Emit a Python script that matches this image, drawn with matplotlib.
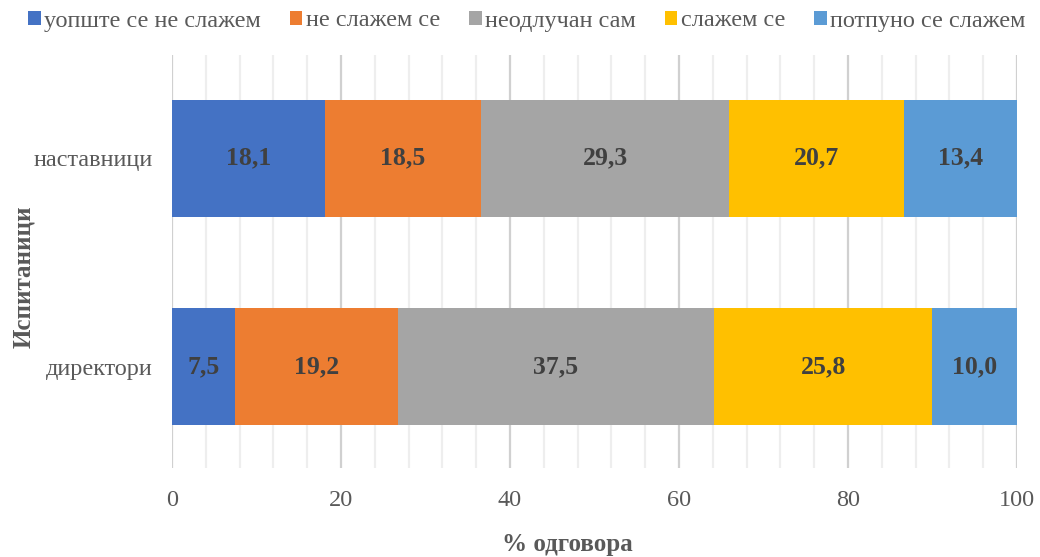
import matplotlib
matplotlib.use("Agg")
import matplotlib.pyplot as plt
from matplotlib.patches import Patch
from matplotlib.ticker import MultipleLocator
import numpy as np

categories = ["директори", "наставници"]
series_names = ["уопште се не слажем", "не слажем се", "неодлучан сам", "слажем се", "потпуно се слажем"]
s1 = [7.5, 18.1]
s2 = [19.2, 18.5]
s3 = [37.5, 29.3]
s4 = [25.8, 20.7]
s5 = [10.0, 13.4]
values = [s1, s2, s3, s4, s5]
colors = ["#4472C4", "#ED7D31", "#A5A5A5", "#FFC000", "#5B9BD5"]
xticks = [0, 20, 40, 60, 80, 100]
xlabel = "% одговора"
ylabel = "Испитаници"

plt.rcParams['font.family'] = ['Liberation Serif', 'DejaVu Serif']
gray = "#595959"

fig = plt.figure(figsize=(10.4, 5.57), dpi=100)
ax = fig.add_axes([172/1040, 1-468/557, (1017-172)/1040, (468-55)/557])

y = np.arange(len(categories))
left = np.zeros(len(categories))
for name, vals, c in zip(series_names, values, colors):
    vals = np.array(vals)
    ax.barh(y, vals, left=left, height=0.56, color=c, label=name, zorder=3)
    for yi, l, v in zip(y, left, vals):
        ax.text(l + v/2, yi, f"{v:.1f}".replace(".", ","), ha="center", va="center",
                fontsize=18.5, fontweight="bold", color="#404040", zorder=4)
    left += vals

ax.set_xlim(0, 100)
ax.set_ylim(-0.485, 1.495)
ax.set_xticks(xticks)
ax.xaxis.set_minor_locator(MultipleLocator(4))
ax.set_yticks(y)
ax.set_yticklabels(categories)
ax.grid(axis="x", which="major", color="#D0D0D0", linewidth=1.6, zorder=0)
ax.grid(axis="x", which="minor", color="#EEEEEE", linewidth=1.6, zorder=0)
ax.grid(axis="y", visible=False)
for s in ax.spines.values():
    s.set_visible(False)
ax.tick_params(axis="both", which="both", length=0, labelsize=17.5, labelcolor=gray)
ax.tick_params(axis="x", pad=16)
ax.tick_params(axis="y", pad=14)

fig.text(567/1040, 1-545/557, xlabel, ha="center", va="center", fontsize=18,
         fontweight="bold", color=gray)
fig.text(24/1040, 1-277/557, ylabel, ha="center", va="center", rotation=90,
         fontsize=18, fontweight="bold", color=gray)

handles = [Patch(facecolor=c, edgecolor="none") for c in colors]
fig.legend(handles, series_names, loc="center", bbox_to_anchor=(527/1040, 1-21/557),
           ncol=5, frameon=False, fontsize=17.5, handlelength=0.5, handleheight=0.5,
           handletextpad=0.15, columnspacing=1.2, labelcolor=gray)

fig.savefig("out.png", dpi=100)
